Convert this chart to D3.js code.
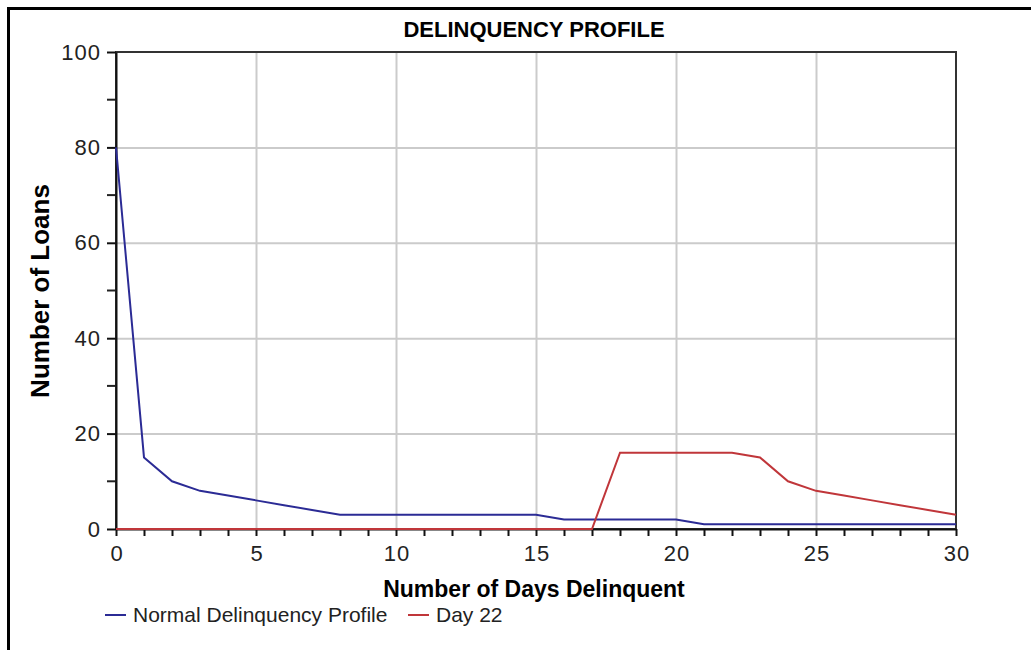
<!DOCTYPE html>
<html>
<head>
<meta charset="utf-8">
<script src="https://cdn.jsdelivr.net/npm/d3@7"></script>
<style>
  html, body { margin: 0; padding: 0; background: #fff; overflow: hidden; }
  svg { display: block; font-family: "Liberation Sans", Arial, sans-serif; }
  .tick-label { fill: #222; letter-spacing: 1px; }
  .grid line { stroke: #cbcbcb; stroke-width: 2; }
  .grid path { display: none; }
</style>
</head>
<body>
<div id="chart"></div>
<script>
// data
const days = [0, 1, 2, 3, 4, 5, 6, 7, 8, 9, 10, 11, 12, 13, 14, 15, 16, 17, 18, 19, 20, 21, 22, 23, 24, 25, 26, 27, 28, 29, 30];
const normalProfile = [80, 15, 10, 8, 7, 6, 5, 4, 3, 3, 3, 3, 3, 3, 3, 3, 2, 2, 2, 2, 2, 1, 1, 1, 1, 1, 1, 1, 1, 1, 1];
const day22 = [0, 0, 0, 0, 0, 0, 0, 0, 0, 0, 0, 0, 0, 0, 0, 0, 0, 0, 16, 16, 16, 16, 16, 15, 10, 8, 7, 6, 5, 4, 3];
const xTicks = [0, 5, 10, 15, 20, 25, 30];
const yTicks = [0, 20, 40, 60, 80, 100];

const seriesNames = ['Normal Delinquency Profile', 'Day 22'];
const seriesColors = ['#2b2b95', '#c0363a'];

const W = 1031, H = 650;
const plot = { left: 116, right: 956, top: 52, bottom: 529 };

const svg = d3.select('#chart').append('svg')
  .attr('width', W).attr('height', H);

// outer frame (runs off the right and bottom edges)
svg.append('rect')
  .attr('x', 8.5).attr('y', 8.5)
  .attr('width', W + 20).attr('height', H + 20)
  .attr('fill', 'none').attr('stroke', '#000').attr('stroke-width', 3);

const x = d3.scaleLinear().domain([0, 30]).range([plot.left, plot.right]);
const y = d3.scaleLinear().domain([0, 100]).range([plot.bottom, plot.top]);

// grid
svg.append('g').attr('class', 'grid')
  .attr('transform', `translate(0,${plot.bottom})`)
  .call(d3.axisBottom(x).tickValues(xTicks.slice(1, -1)).tickSize(-(plot.bottom - plot.top)).tickFormat(''));
svg.append('g').attr('class', 'grid')
  .attr('transform', `translate(${plot.left},0)`)
  .call(d3.axisLeft(y).tickValues(yTicks.slice(1, -1)).tickSize(-(plot.right - plot.left)).tickFormat(''));

// plot border
svg.append('rect')
  .attr('x', plot.left).attr('y', plot.top)
  .attr('width', plot.right - plot.left).attr('height', plot.bottom - plot.top)
  .attr('fill', 'none').attr('stroke', '#333').attr('stroke-width', 2);

// minor ticks
const minorY = d3.range(10, 100, 20);
svg.append('g').selectAll('line').data(minorY).join('line')
  .attr('x1', plot.left - 9).attr('x2', plot.left)
  .attr('y1', d => y(d)).attr('y2', d => y(d))
  .attr('stroke', '#222').attr('stroke-width', 2);

// axes
const xAxis = svg.append('g')
  .attr('transform', `translate(0,${plot.bottom})`)
  .call(d3.axisBottom(x).tickValues(days).tickSize(7).tickSizeOuter(0)
    .tickFormat(d => xTicks.includes(d) ? d : ''));
xAxis.select('.domain').attr('stroke', '#111').attr('stroke-width', 2);
xAxis.selectAll('.tick line').attr('stroke', '#111').attr('stroke-width', 2);
xAxis.selectAll('.tick text').attr('class', 'tick-label').attr('y', 16).attr('dx', '0.5px');

const yAxis = svg.append('g')
  .attr('transform', `translate(${plot.left},0)`)
  .call(d3.axisLeft(y).tickValues(yTicks).tickSize(9).tickSizeOuter(0));
yAxis.select('.domain').attr('stroke', '#111').attr('stroke-width', 2);
yAxis.selectAll('.tick line').attr('stroke', '#111').attr('stroke-width', 2);
yAxis.selectAll('.tick text').attr('class', 'tick-label').attr('x', -15);
[xAxis, yAxis].forEach(a => a.attr('font-size', 22).attr('font-family', null));

// lines
const line = d3.line().x((d, i) => x(days[i])).y(d => y(d));
[normalProfile, day22].forEach((vals, k) => {
  svg.append('path')
    .datum(vals)
    .attr('fill', 'none')
    .attr('stroke', seriesColors[k])
    .attr('stroke-width', 2)
    .attr('d', line);
});

// titles
svg.append('text')
  .attr('x', 534).attr('y', 37)
  .attr('text-anchor', 'middle')
  .attr('font-size', 22).attr('font-weight', 'bold')
  .text('DELINQUENCY PROFILE');

svg.append('text')
  .attr('x', 534).attr('y', 597)
  .attr('text-anchor', 'middle')
  .attr('font-size', 23).attr('font-weight', 'bold')
  .text('Number of Days Delinquent');

svg.append('text')
  .attr('transform', 'translate(49,291) rotate(-90)')
  .attr('text-anchor', 'middle')
  .attr('font-size', 26).attr('font-weight', 'bold')
  .text('Number of Loans');

// legend
const legendX = [105, 408];
const legend = svg.append('g');
seriesNames.forEach((name, k) => {
  legend.append('line')
    .attr('x1', legendX[k]).attr('x2', legendX[k] + 21)
    .attr('y1', 615).attr('y2', 615)
    .attr('stroke', seriesColors[k]).attr('stroke-width', 2);
  legend.append('text')
    .attr('x', legendX[k] + 28).attr('y', 622)
    .attr('font-size', 21).attr('fill', '#222')
    .text(name);
});
</script>
</body>
</html>
